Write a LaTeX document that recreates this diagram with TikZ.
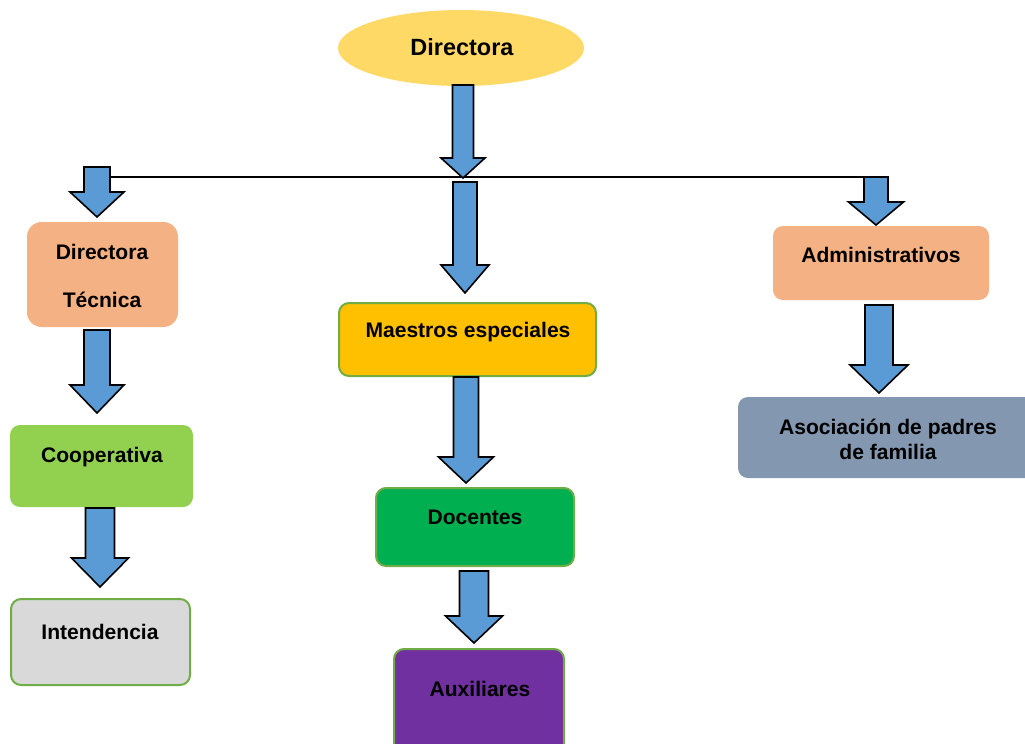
\documentclass[tikz,border=0pt]{standalone}
\usepackage{fontspec}
\setmainfont{Liberation Sans}
\usetikzlibrary{fit,shapes.geometric}

\definecolor{amarillo}{HTML}{FFD966}
\definecolor{durazno}{HTML}{F4B183}
\definecolor{verdeclaro}{HTML}{92D050}
\definecolor{gris}{HTML}{D9D9D9}
\definecolor{naranja}{HTML}{FFC000}
\definecolor{verde}{HTML}{00B050}
\definecolor{morado}{HTML}{7030A0}
\definecolor{azulgris}{HTML}{8497B0}
\definecolor{borde}{HTML}{70AD47}
\definecolor{azul}{HTML}{5B9BD5}

\tikzset{
  caja/.style={rectangle, rounded corners=7.5pt, inner sep=0pt},
  conborde/.style={draw=borde, line width=1.5pt},
  texto/.style={font=\bfseries\fontsize{15.8}{18.75}\selectfont, text height=0.72em, text depth=0pt, inner sep=0pt, align=center},
  flechaazul/.style={fill=azul, draw=black, line width=1.2pt, line join=miter}
}

% x, arriba, inicio punta, punta, medio cuerpo, media punta
\newcommand{\flecha}[6]{%
  \draw[flechaazul] (#1-#5,#2) -- (#1+#5,#2) -- (#1+#5,#3) -- (#1+#6,#3)
    -- (#1,#4) -- (#1-#6,#3) -- (#1-#5,#3) -- cycle;
}

\begin{document}
\begin{tikzpicture}[x=0.75pt, y=-0.75pt]
    \useasboundingbox (0,0) rectangle (1025,743);

    % cabeza
    \node[ellipse, fill=amarillo, minimum width=184.5pt, minimum height=57pt, inner sep=0pt] (dir) at (461,48) {};
    \node[texto, font=\bfseries\fontsize{17.6}{20}\selectfont] (dir-t) at (462,51) {Directora};

    % linea horizontal
    \coordinate (izq) at (110,177);
    \coordinate (der) at (875,177);
    \draw[line width=0.8pt] (izq) -- (der);

    % columna izquierda
    \node[caja, rounded corners=11pt, fill=durazno, fit={(27,222) (178,327)}] (tec) {};
    \node[texto, font=\bfseries\fontsize{15.8}{36}\selectfont] (tec-t) at (102,303) {Directora\\Técnica};
    \node[caja, fill=verdeclaro, fit={(10,425) (193,507)}] (coop) {};
    \node[texto] (coop-t) at (102,458) {Cooperativa};
    \node[caja, conborde, fill=gris, fit={(11,599) (190,685)}] (int) {};
    \node[texto] (int-t) at (100,635) {Intendencia};

    % columna central
    \node[caja, conborde, fill=naranja, fit={(339,303) (596,376)}] (mae) {};
    \node[texto] (mae-t) at (468,333) {Maestros especiales};
    \node[caja, conborde, fill=verde, fit={(376,488) (574,566)}] (doc) {};
    \node[texto] (doc-t) at (475,520) {Docentes};
    \node[caja, conborde, fill=morado, fit={(394,649) (564,760)}] (aux) {};
    \node[texto] (aux-t) at (480,692) {Auxiliares};

    % columna derecha
    \node[caja, fill=durazno, fit={(773,226) (989,300)}] (adm) {};
    \node[texto] (adm-t) at (881,258) {Administrativos};
    \node[caja, fill=azulgris, fit={(738,397) (1040,478)}] (aso) {};
    \node[texto] (aso-t) at (888,455) {Asociación de padres\\de familia};

    % flechas
    \flecha{463}{85}{158}{178}{10.5}{22}
    \flecha{97}{167}{192}{217}{13}{27}
    \flecha{97}{330}{385}{413}{13}{27}
    \flecha{100}{508}{558}{587}{14.5}{28.5}
    \flecha{465}{182}{265}{293}{12}{24}
    \flecha{466}{377}{457}{483}{12.5}{27.5}
    \flecha{474}{571}{616}{643}{14.5}{28.5}
    \flecha{876}{177}{202}{225}{12}{27.5}
    \flecha{879}{305}{365}{393}{14}{29}
\end{tikzpicture}
\end{document}
